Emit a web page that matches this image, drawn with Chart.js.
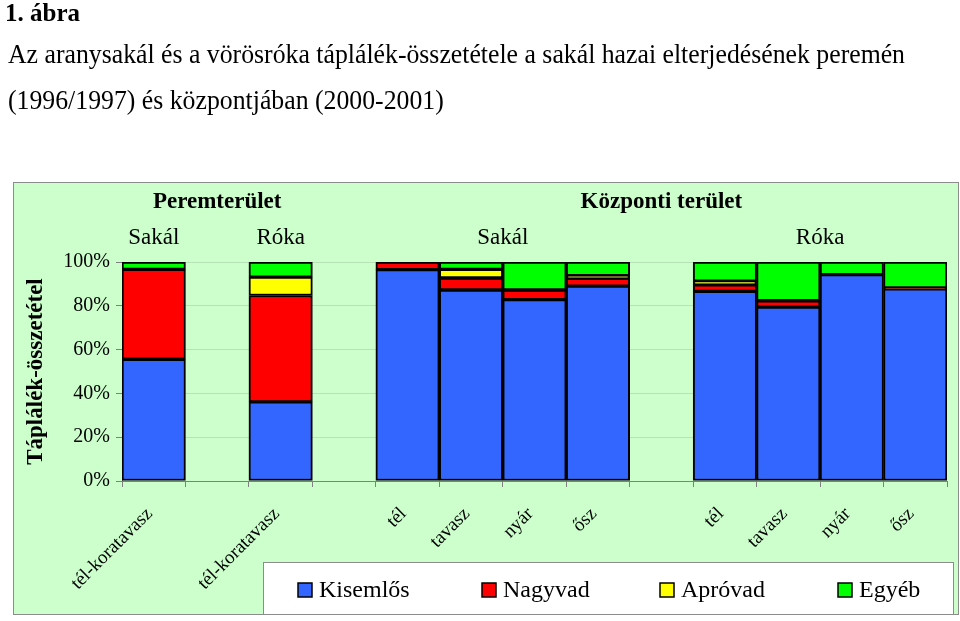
<!DOCTYPE html>
<html>
<head>
<meta charset="utf-8">
<script src="https://cdn.jsdelivr.net/npm/chart.js@4/dist/chart.umd.min.js"></script>
<style>
  html, body { margin: 0; padding: 0; background: #fff; }
</style>
</head>
<body>
<canvas id="foodChart" width="960" height="621"></canvas>
<script>
// Táplálék-összetétel - aranysakál és vörösróka

const categories = ['tél-koratavasz', '', 'tél-koratavasz', '', 'tél', 'tavasz', 'nyár', 'ősz', '', 'tél', 'tavasz', 'nyár', 'ősz'];
const kisemlos = [55.6, null, 36.1, null, 96.5, 87.2, 82.8, 89.0, null, 86.6, 79.4, 94.2, 87.8];
const nagyvad  = [41.0, null, 48.6, null, 3.5, 5.5, 4.4, 3.5, null, 3.0, 2.9, null, 0.4];
const aprovad  = [null, null, 8.4, null, null, 3.9, null, 1.3, null, 1.7, null, null, null];
const egyeb    = [3.4, null, 6.9, null, null, 3.4, 12.8, 6.2, null, 8.7, 17.7, 5.8, 11.8];
const yTicks = [0, 20, 40, 60, 80, 100];

const serif = '"Liberation Serif", "Times New Roman", serif';

// Group headings above the bars: [label, first category, last category]
const regions = [['Peremterület', 0, 2], ['Központi terület', 4, 12]];
const species = [['Sakál', 0, 0], ['Róka', 2, 2], ['Sakál', 4, 7], ['Róka', 9, 12]];

const frame = { left: 13, top: 182, right: 958, bottom: 614 };
const legendBox = { left: 263, top: 562, right: 953, bottom: 614 };
const legendItemX = [298, 482, 660, 838];

const decorPlugin = {
    id: 'decor',
    beforeDraw(chart) {
        const ctx = chart.ctx;
        ctx.save();
        ctx.fillStyle = '#fff';
        ctx.fillRect(0, 0, chart.width, chart.height);

        // Headline (the original uses a narrow Times, so squeeze it)
        ctx.fillStyle = '#000';
        ctx.textBaseline = 'alphabetic';
        ctx.textAlign = 'left';
        ctx.font = 'bold 25px ' + serif;
        ctx.fillText('1. ábra', 5, 21, 76);
        ctx.font = '27px ' + serif;
        const line1 = 'Az aranysakál és a vörösróka táplálék-összetétele a sakál hazai elterjedésének peremén';
        const line2 = '(1996/1997) és központjában (2000-2001)';
        const squeeze = 897 / ctx.measureText(line1).width;
        ctx.fillText(line1, 8, 63, 897);
        ctx.fillText(line2, 8, 109, ctx.measureText(line2).width * squeeze);

        // Chart frame
        ctx.fillStyle = '#ccffcc';
        ctx.fillRect(frame.left, frame.top, frame.right - frame.left, frame.bottom - frame.top);
        ctx.strokeStyle = '#8c8c8c';
        ctx.lineWidth = 1;
        ctx.strokeRect(frame.left + 0.5, frame.top + 0.5, frame.right - frame.left, frame.bottom - frame.top);
        ctx.restore();
    },
    afterDraw(chart) {
        const ctx = chart.ctx;
        const x = chart.scales.x;
        ctx.save();
        ctx.fillStyle = '#000';
        ctx.textAlign = 'center';
        ctx.textBaseline = 'alphabetic';

        ctx.font = 'bold 23px ' + serif;
        regions.forEach(r => {
            const cx = (x.getPixelForValue(r[1]) + x.getPixelForValue(r[2])) / 2;
            ctx.fillText(r[0], cx, 208);
        });
        ctx.font = '23px ' + serif;
        species.forEach(s => {
            const cx = (x.getPixelForValue(s[1]) + x.getPixelForValue(s[2])) / 2;
            ctx.fillText(s[0], cx, 244);
        });

        // Legend
        ctx.fillStyle = '#fff';
        ctx.fillRect(legendBox.left, legendBox.top, legendBox.right - legendBox.left, legendBox.bottom - legendBox.top);
        ctx.strokeStyle = '#8c8c8c';
        ctx.lineWidth = 1;
        ctx.strokeRect(legendBox.left + 0.5, legendBox.top + 0.5, legendBox.right - legendBox.left, legendBox.bottom - legendBox.top);

        ctx.textAlign = 'left';
        ctx.textBaseline = 'middle';
        ctx.font = '24px ' + serif;
        chart.data.datasets.forEach((ds, i) => {
            const bx = legendItemX[i];
            const cy = 590;
            ctx.fillStyle = ds.backgroundColor;
            ctx.fillRect(bx, cy - 7, 14, 14);
            ctx.strokeStyle = '#000';
            ctx.lineWidth = 1.5;
            ctx.strokeRect(bx, cy - 7, 14, 14);
            ctx.fillStyle = '#000';
            ctx.fillText(ds.label, bx + 21, cy + 1);
        });
        ctx.restore();
    }
};

function makeDataset(label, values, color) {
    return {
        label: label,
        data: values,
        backgroundColor: color,
        borderColor: '#000',
        borderWidth: 2,
        borderSkipped: false,
        barPercentage: 1,
        categoryPercentage: 1
    };
}

const ctx = document.getElementById('foodChart');

window.foodChart = new Chart(ctx.getContext('2d'), {
    type: 'bar',
    data: {
        labels: categories,
        datasets: [
            makeDataset('Kisemlős', kisemlos, '#3366ff'),
            makeDataset('Nagyvad', nagyvad, '#ff0000'),
            makeDataset('Apróvad', aprovad, '#ffff00'),
            makeDataset('Egyéb', egyeb, '#00ff00')
        ]
    },
    options: {
        responsive: false,
        animation: false,
        devicePixelRatio: 1,
        layout: {
            padding: { left: 0, top: 262, right: 13, bottom: 0 }
        },
        plugins: {
            legend: { display: false },
            tooltip: { enabled: false }
        },
        scales: {
            x: {
                stacked: true,
                offset: true,
                grid: {
                    offset: true,
                    drawOnChartArea: false,
                    tickLength: 6,
                    tickColor: '#808080'
                },
                border: { color: '#808080', width: 1 },
                ticks: {
                    color: '#000',
                    font: { family: serif, size: 19 },
                    maxRotation: 45,
                    minRotation: 45,
                    autoSkip: false,
                    padding: 16,
                    labelOffset: -4
                },
                afterFit: function(scale) { scale.height = 140; }
            },
            y: {
                stacked: true,
                min: 0,
                max: 100,
                afterBuildTicks: function(scale) {
                    scale.ticks = yTicks.map(v => ({ value: v }));
                },
                grid: {
                    color: '#b5e3b5',
                    tickColor: '#808080',
                    tickLength: 6
                },
                border: { color: '#808080', width: 1 },
                ticks: {
                    color: '#000',
                    font: { family: serif, size: 20 },
                    padding: 6,
                    callback: function(value) { return value + '%'; }
                },
                title: {
                    display: true,
                    text: 'Táplálék-összetétel',
                    color: '#000',
                    font: { family: serif, size: 23, weight: 'bold' },
                    padding: { top: 22, bottom: 0 }
                },
                afterFit: function(scale) { scale.width = 122; }
            }
        }
    },
    plugins: [decorPlugin]
});
</script>
</body>
</html>
